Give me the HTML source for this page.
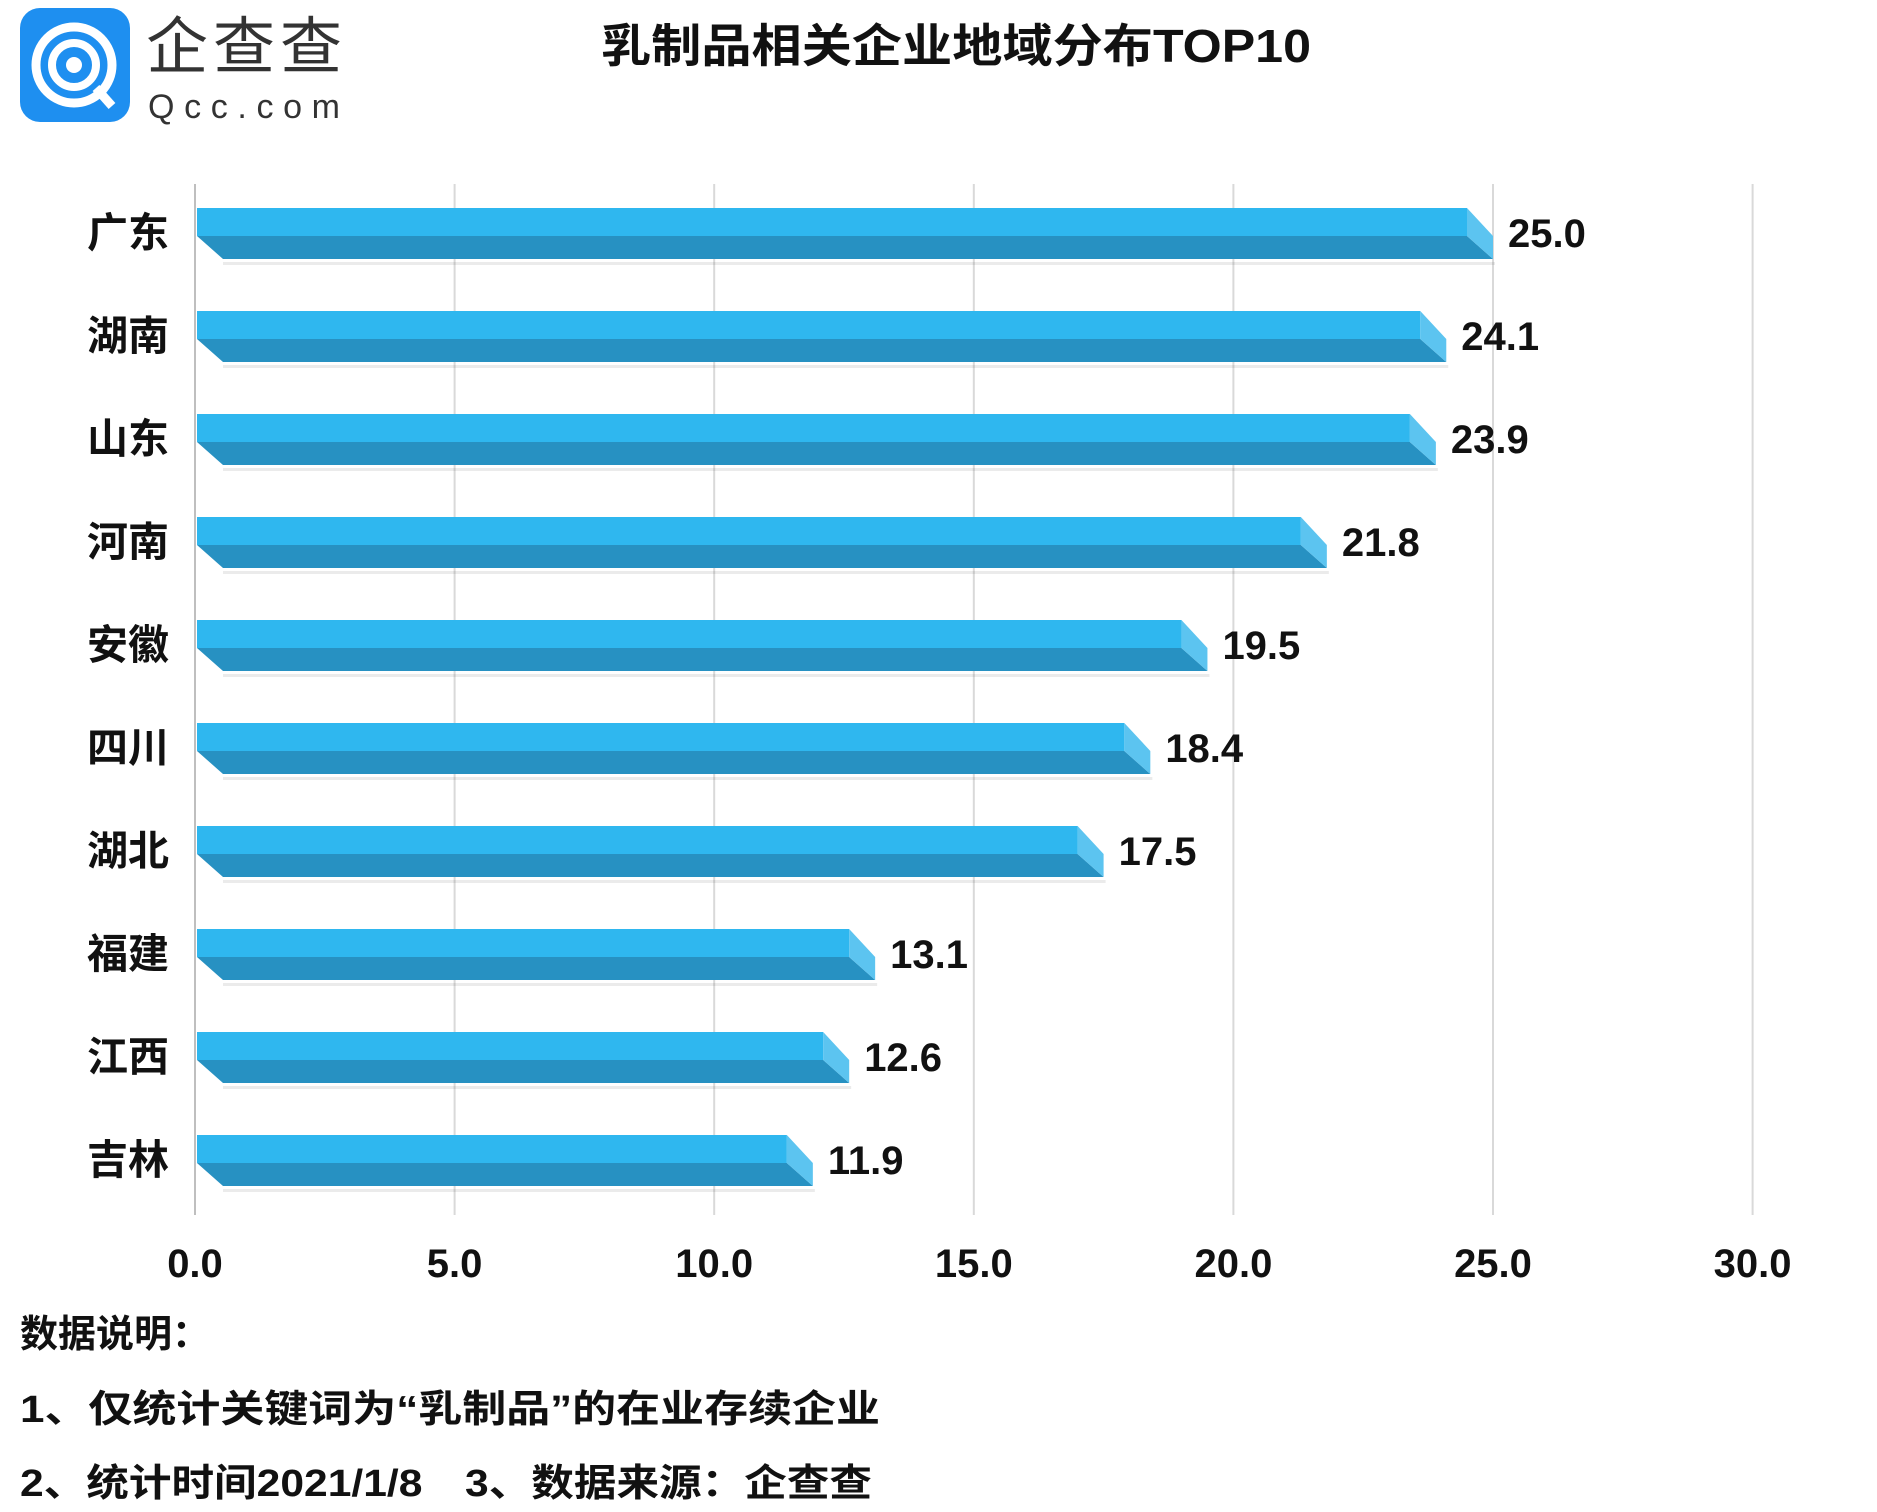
<!DOCTYPE html>
<html><head><meta charset="utf-8">
<style>
body{margin:0;background:#fff;width:1877px;height:1507px;overflow:hidden;font-family:"Liberation Sans","Noto Sans CJK SC",sans-serif;}
svg text{font-family:"Liberation Sans","Noto Sans CJK SC",sans-serif;}
</style></head>
<body>
<svg id="chart" width="1877" height="1507" xmlns="http://www.w3.org/2000/svg">
  <g>
    <rect x="20" y="8" width="110" height="114" rx="20" fill="#1e8ff0"/>
    <circle cx="74" cy="65" r="38" fill="none" stroke="#fff" stroke-width="9"/>
    <circle cx="74" cy="65" r="22" fill="none" stroke="#fff" stroke-width="8"/>
    <circle cx="74" cy="65" r="8" fill="#fff"/>
    <line x1="96" y1="88" x2="112" y2="106" stroke="#fff" stroke-width="9"/>
    <text x="146" y="68" font-size="62" fill="#333" font-weight="normal" textLength="196">企查查</text>
    <text x="148" y="118" font-size="34" fill="#333" textLength="192">Qcc.com</text>
  </g>
  <text x="601" y="62" font-size="46" font-weight="bold" textLength="710" lengthAdjust="spacingAndGlyphs" fill="#111">乳制品相关企业地域分布TOP10</text>
  <g id="grid"></g>
  <g id="bars"></g>
  <g id="footer">
    <text x="20" y="1347" font-size="38" font-weight="bold" fill="#111">数据说明：</text>
    <text x="20" y="1422" font-size="38" font-weight="bold" fill="#111" textLength="860" lengthAdjust="spacingAndGlyphs">1、仅统计关键词为“乳制品”的在业存续企业</text>
    <text x="20" y="1496" font-size="38" font-weight="bold" fill="#111" textLength="852" lengthAdjust="spacingAndGlyphs">2、统计时间2021/1/8　3、数据来源：企查查</text>
  </g>
</svg>
<script>
const categories = ["广东","湖南","山东","河南","安徽","四川","湖北","福建","江西","吉林"];
const values = [25.0,24.1,23.9,21.8,19.5,18.4,17.5,13.1,12.6,11.9];
const ticks = [0,5,10,15,20,25,30];
const tickLabels = ["0.0","5.0","10.0","15.0","20.0","25.0","30.0"];

const NS="http://www.w3.org/2000/svg";
const x0=195, xPerUnit=(1493-195)/25, yTop=184, yBot=1215, band0=233, bandStep=103;
function xs(v){return x0+v*xPerUnit;}
function ys(i){return band0+i*bandStep;}
function mk(tag,attrs,parent){const e=document.createElementNS(NS,tag);for(const k in attrs)e.setAttribute(k,attrs[k]);parent.appendChild(e);return e;}

const grid=document.getElementById('grid');
ticks.forEach((t,i)=>{
  const l=mk('line',{x1:xs(t),x2:xs(t),y1:yTop,y2:yBot,stroke:i===0?'#bfbfbf':'#d9d9d9','stroke-width':2},grid);
  
  
  const tx=mk('text',{x:xs(t),y:1277,'font-size':40,'font-weight':'bold','text-anchor':'middle',fill:'#111'},grid);
  tx.textContent=tickLabels[i];
  
  
});

const bars=document.getElementById('bars');
categories.forEach((c,i)=>{
  const cy=ys(i), top=cy-25, mid=cy+3, bot=cy+26, xe=xs(values[i]), bs=xs(0)+2, d=26;
  const g=mk('g',{},bars);
  
  
  mk('polygon',{points:`${bs+d},${bot+3} ${xe+2},${bot+3} ${xe+2},${bot+6} ${bs+d},${bot+6}`,fill:'#000','fill-opacity':0.08},g);
  mk('rect',{x:bs,y:top,width:xe-d-bs,height:mid-top,fill:'#2fb7ef'},g);
  mk('polygon',{points:`${bs},${mid} ${xe-d},${mid} ${xe},${bot} ${bs+d},${bot}`,fill:'#2791c2'},g);
  mk('polygon',{points:`${xe-d},${top} ${xe},${mid} ${xe},${bot} ${xe-d},${mid}`,fill:'#5cc4f0'},g);
  const lab=mk('text',{x:xe+15,y:cy+14,'font-size':40,'font-weight':'bold',fill:'#111'},g);
  lab.textContent=values[i].toFixed(1);
  
  
  const cl=mk('text',{x:128,y:cy+14,'font-size':41,'font-weight':'bold','text-anchor':'middle',fill:'#111'},bars);
  cl.textContent=c;
  
  
});
</script>
</body></html>
